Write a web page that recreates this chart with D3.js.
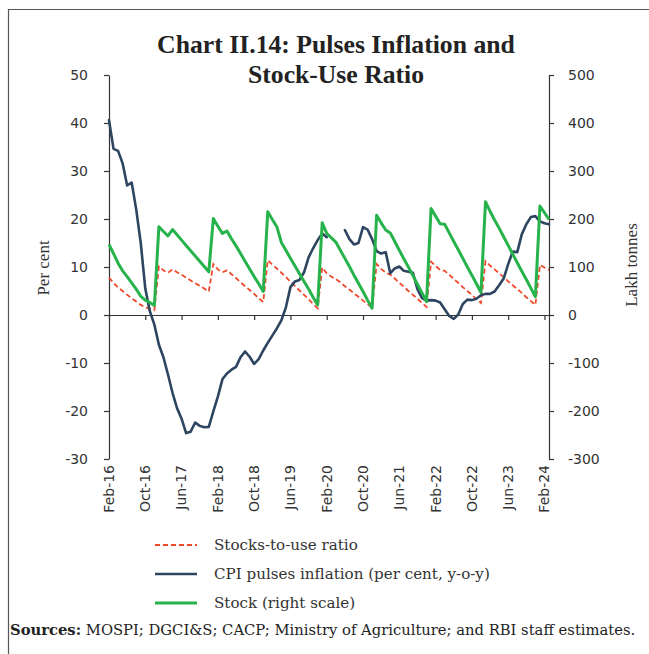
<!DOCTYPE html>
<html><head><meta charset="utf-8">
<script src="https://cdn.jsdelivr.net/npm/d3@7/dist/d3.min.js"></script>
<style>
body{margin:0;background:#fff;}
svg{display:block;}
</style></head>
<body>
<svg id="c" width="649" height="654"></svg>
<script>
// Months Feb-16 .. Mar-24
const months = d3.timeMonths(new Date(2016,1,1), new Date(2024,3,1)).map(d3.timeFormat("%b-%y"));
const tickLabels = ["Feb-16","Oct-16","Jun-17","Feb-18","Oct-18","Jun-19","Feb-20","Oct-20","Jun-21","Feb-22","Oct-22","Jun-23","Feb-24"];
const leftTicks = [-30,-20,-10,0,10,20,30,40,50];
const rightTicks = [-300,-200,-100,0,100,200,300,400,500];

// CPI pulses inflation (per cent, y-o-y)
const cpi = [40.6,34.6,34.2,31.6,27.0,27.6,22.0,15.0,5.5,0.8,
 -2.0,-6.2,-8.8,-12.4,-16.2,-19.4,-21.6,-24.6,-24.3,-22.4,
 -23.1,-23.4,-23.3,-20.1,-17.0,-13.4,-12.2,-11.4,-10.8,-8.8,
 -7.6,-8.7,-10.2,-9.2,-7.4,-5.8,-4.3,-2.8,-1.1,1.6,
 5.8,7.0,7.3,8.9,12.0,13.9,15.6,17.0,16.2,null,
 null,null,17.7,15.8,14.7,15.0,18.3,17.8,15.8,13.3,
 12.8,13.1,8.7,9.7,10.1,9.2,9.0,8.8,5.4,3.5,
 3.0,3.1,3.0,2.6,1.2,-0.2,-0.8,0.1,2.3,3.2,
 3.1,3.4,4.1,4.4,4.4,4.9,6.2,7.6,10.6,13.2,
 13.1,16.8,18.9,20.4,20.6,19.5,19.1,18.9];

// Stock (lakh tonnes, right scale)
const stock = [147,128,108,92,80,67,54,39,31,26,
 20,184,174,165,178,167,156,145,134,123,
 112,101,90,201,185,170,175,159,144,128,
 112,96,80,65,49,215,199,184,151,135,
 118,102,86,70,54,37,21,192,170,161,
 152,135,118,101,83,66,49,31,14,208,
 192,177,171,153,135,117,100,82,64,46,
 28,222,206,190,189,171,153,136,118,100,
 83,65,47,236,216,198,181,163,145,127,
 109,91,74,56,38,227,213,199];

// Stocks-to-use ratio (left scale)
const ratio = [7.8,6.7,5.7,5.0,4.2,3.5,2.8,2.1,1.6,1.3,
 1.0,10.1,9.3,8.8,9.5,8.9,8.4,7.8,7.2,6.6,
 6.1,5.5,4.9,10.6,9.5,8.9,9.3,8.5,7.7,6.8,
 6.0,5.2,4.4,3.5,2.7,11.4,10.5,9.7,8.8,7.9,
 6.9,6.0,5.1,4.2,3.3,2.3,1.4,9.9,8.7,8.0,
 7.5,6.8,6.0,5.3,4.5,3.8,3.0,2.3,1.5,10.6,
 9.6,8.8,8.4,7.6,6.7,5.9,5.0,4.2,3.4,2.5,
 1.7,11.1,10.2,9.4,9.2,8.4,7.5,6.7,5.8,5.0,
 4.2,3.3,2.5,11.2,10.3,9.5,8.7,7.9,7.0,6.2,
 5.4,4.6,3.7,2.9,2.1,10.4,9.9,9.4];

const svg = d3.select("#c");
const textCol = "#333";
const x = d3.scalePoint().domain(months).range([109, 549]);
const yL = d3.scaleLinear().domain([-30, 50]).range([459, 75]);
const yR = d3.scaleLinear().domain([-300, 500]).range([459, 75]);

function fit(sel, target){
  const fs = +sel.attr("font-size");
  const w = sel.node().getComputedTextLength();
  sel.attr("font-size", fs*target/w);
  return sel;
}

// frame
svg.append("path").attr("d","M8.5,700 V9.5 H700").attr("fill","none").attr("stroke","#555").attr("stroke-width",1.2);

// title
const title = svg.append("g").attr("font-family","'Liberation Serif', serif").attr("font-weight","bold").attr("fill","#222");
fit(title.append("text").attr("x",336).attr("y",53).attr("text-anchor","middle").attr("font-size",24).text("Chart II.14: Pulses Inflation and"), 358);
fit(title.append("text").attr("x",336).attr("y",83).attr("text-anchor","middle").attr("font-size",24).text("Stock-Use Ratio"), 176);

// axes
const sans = "'DejaVu Sans', sans-serif";
const fmt = d => String(d);
const gl = svg.append("g").attr("transform","translate(109,0)")
  .call(d3.axisLeft(yL).tickValues(leftTicks).tickFormat(fmt).tickSize(5).tickSizeOuter(0).tickPadding(16));
const gr = svg.append("g").attr("transform","translate(549,0)")
  .call(d3.axisRight(yR).tickValues(rightTicks).tickFormat(fmt).tickSize(5).tickSizeOuter(0).tickPadding(14));
const gx = svg.append("g").attr("transform",`translate(0,${yL(0)})`)
  .call(d3.axisBottom(x).tickValues(tickLabels).tickSize(5).tickSizeOuter(0).tickFormat(""));
[gl,gr,gx].forEach(g=>{
  g.selectAll("path,line").attr("stroke","#333").attr("stroke-width",1.2);
  g.selectAll("text").attr("font-family",sans).attr("font-size",14).attr("fill",textCol);
});

// x labels at bottom
svg.append("g").selectAll("text").data(tickLabels).join("text")
  .attr("transform",d=>`translate(${x(d)},465) rotate(-90)`)
  .attr("text-anchor","end").attr("dy","0.35em")
  .attr("font-family",sans).attr("font-size",14).attr("fill",textCol)
  .text(d=>d);

// axis titles
const serif = "'DejaVu Serif', serif";
const serif2 = "'Liberation Serif', serif";
svg.append("text").attr("transform","translate(49,268) rotate(-90)").attr("text-anchor","middle")
  .attr("font-family",serif2).attr("font-size",17).attr("fill",textCol).text("Per cent");
svg.append("text").attr("transform","translate(637,265) rotate(-90)").attr("text-anchor","middle")
  .attr("font-family",serif2).attr("font-size",17).attr("fill",textCol).text("Lakh tonnes");

// lines
const idx = d3.range(months.length);
const lineL = arr => d3.line().defined(i=>arr[i]!=null).x(i=>x(months[i])).y(i=>yL(arr[i]));
const lineR = arr => d3.line().defined(i=>arr[i]!=null).x(i=>x(months[i])).y(i=>yR(arr[i]));
const red = "#f0492b", navy = "#2d4560", green = "#27b34b";
svg.append("path").attr("d", lineL(ratio)(idx)).attr("fill","none").attr("stroke",red)
  .attr("stroke-width",1.8).attr("stroke-dasharray","5,3");
svg.append("path").attr("d", lineL(cpi)(idx)).attr("fill","none").attr("stroke",navy)
  .attr("stroke-width",2.6).attr("stroke-linejoin","round").attr("stroke-linecap","round");
svg.append("path").attr("d", lineR(stock)(idx)).attr("fill","none").attr("stroke",green)
  .attr("stroke-width",3).attr("stroke-linejoin","round");

// legend
const legend = [
  {label:"Stocks-to-use ratio", color:red, dash:"5,3", w:1.8},
  {label:"CPI pulses inflation (per cent, y-o-y)", color:navy, dash:null, w:2.6},
  {label:"Stock (right scale)", color:green, dash:null, w:3}
];
const lg = svg.append("g");
let legFs = 15;
legend.forEach((d,i)=>{
  const y = 545 + i*29;
  lg.append("line").attr("x1",155).attr("x2",197).attr("y1",y).attr("y2",y)
    .attr("stroke",d.color).attr("stroke-width",d.w).attr("stroke-dasharray",d.dash);
  const t = lg.append("text").attr("x",214).attr("y",y+5).attr("font-family",serif).attr("font-size",15)
    .attr("fill",textCol).text(d.label);
  if(i===1){ fit(t, 276); legFs = +t.attr("font-size"); }
});
lg.selectAll("text").attr("font-size", legFs);

// sources
const src = svg.append("text").attr("x",10).attr("y",635).attr("font-family",serif).attr("font-size",15).attr("fill","#222");
src.append("tspan").attr("font-weight","bold").text("Sources:");
src.append("tspan").text(" MOSPI; DGCI&S; CACP; Ministry of Agriculture; and RBI staff estimates.");
fit(src, 626);
</script>
</body></html>
